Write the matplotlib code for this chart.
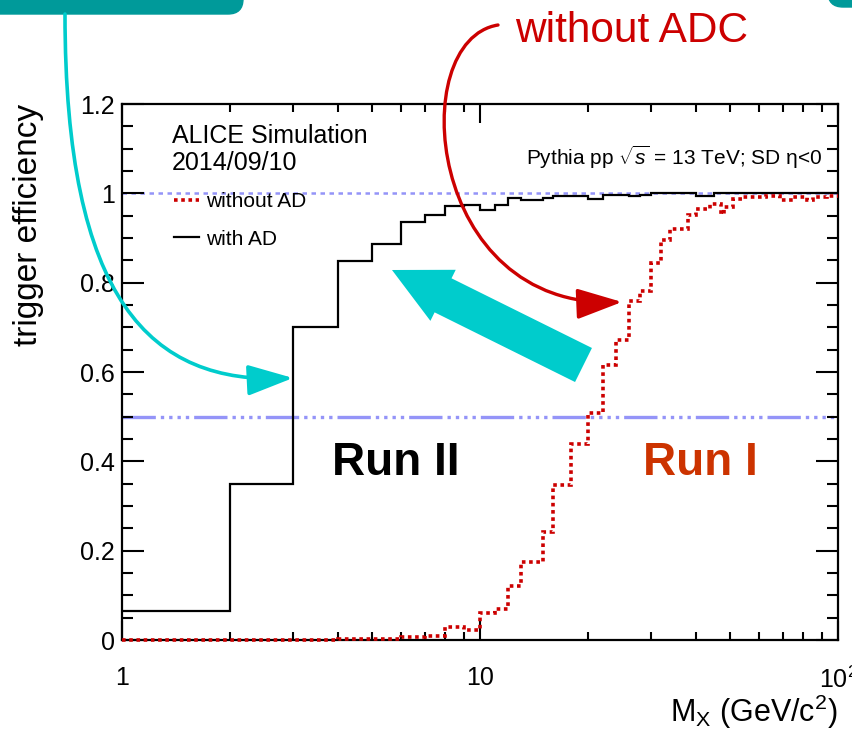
import matplotlib
matplotlib.use("Agg")
import matplotlib.pyplot as plt
from matplotlib.patches import FancyArrowPatch, FancyArrow, FancyBboxPatch
from matplotlib.path import Path
from matplotlib.ticker import MultipleLocator, LogLocator, NullFormatter

plt.rcParams['font.family'] = ['Liberation Sans', 'DejaVu Sans']
plt.rcParams['mathtext.fontset'] = 'custom'
plt.rcParams['mathtext.rm'] = 'Liberation Sans'
plt.rcParams['mathtext.it'] = 'Liberation Sans:italic'
plt.rcParams['mathtext.bf'] = 'Liberation Sans:bold'

# ---------------- DATA ----------------
# with AD (black histogram)
with_ad_edges = [1, 2, 3, 4, 5, 6, 7, 8, 9, 10, 11, 12, 13, 15, 16, 20, 22, 26, 28, 30, 40, 45, 100]
with_ad_eff = [0.064, 0.350, 0.700, 0.848, 0.886, 0.935, 0.951, 0.971, 0.974, 0.963, 0.975,
               0.989, 0.984, 0.990, 0.995, 0.988, 0.997, 0.993, 0.996, 1.0, 0.994, 1.0]

# without AD (red dotted histogram)
without_ad_edges = [1, 4, 5, 6, 7, 8, 9, 10, 11, 12, 13, 15, 16, 18, 20, 22, 24, 26, 28, 30, 32, 34,
                    38, 40, 44, 47, 48, 51, 54, 63, 69, 75, 82, 85, 93, 100]
without_ad_eff = [0.0, 0.002, 0.003, 0.006, 0.010, 0.028, 0.022, 0.060, 0.069, 0.120, 0.175, 0.242,
                  0.346, 0.438, 0.509, 0.615, 0.671, 0.760, 0.781, 0.844, 0.895, 0.921, 0.951,
                  0.966, 0.977, 0.954, 0.969, 0.988, 0.992, 0.995, 0.985, 0.992, 0.984, 0.992, 0.995]

ref_levels = [1.0, 0.5]
x_tick_vals = [1, 10, 100]
x_tick_labels = ['1', '10', '10$^{2}$']

# ---------------- FIGURE ----------------
W, H = 853, 731
fig = plt.figure(figsize=(W / 100, H / 100), dpi=100)
ax = fig.add_axes([122 / W, (H - 640) / H, (838 - 122) / W, (640 - 104) / H])
tr = fig.dpi_scale_trans


def px(x, y):
    # image pixel (from top-left) -> inches from bottom-left
    return (x / 100, (H - y) / 100)


ax.set_xscale('log')
ax.set_xlim(1, 100)
ax.set_ylim(0, 1.2)

blue = '#9494f8'
ax.axhline(ref_levels[0], color=blue, lw=1.8, ls=(0, (1.8, 1.8)), zorder=1)
ax.axhline(ref_levels[1], color=blue, lw=2.4,
           ls=(0, (10, 1.5, 1, 1.5, 1, 1.5, 1, 1.5, 1, 1.5)), zorder=1)

ax.stairs(with_ad_eff, with_ad_edges, baseline=None, color='black', lw=1.6,
          label='with AD', zorder=3, clip_on=False)
ax.stairs(without_ad_eff, without_ad_edges, baseline=None, color='#cc0000', lw=2.6,
          ls=(0, (1, 1)), label='without AD', zorder=4, clip_on=False)

# ticks, ROOT style
ax.set_xticks(x_tick_vals, labels=x_tick_labels)
ax.xaxis.set_minor_locator(LogLocator(base=10, subs=range(2, 10)))
ax.xaxis.set_minor_formatter(NullFormatter())
ax.yaxis.set_minor_locator(MultipleLocator(0.05))
ax.set_yticks([0, 0.2, 0.4, 0.6, 0.8, 1, 1.2], labels=['0', '0.2', '0.4', '0.6', '0.8', '1', '1.2'])
ax.tick_params(which='both', direction='in', top=True, right=True, width=1.5, labelsize=18)
ax.tick_params(axis='y', which='major', length=16, pad=5)
ax.tick_params(axis='y', which='minor', length=8)
ax.tick_params(axis='x', which='major', length=14, pad=19)
ax.tick_params(axis='x', which='minor', length=6)
for s in ax.spines.values():
    s.set_linewidth(1.6)

ax.set_ylabel('trigger efficiency', fontsize=24, loc='top', labelpad=26)
ax.set_xlabel(r'M$_{\rm X}$ (GeV/c$^{2}$)', fontsize=22, loc='right', labelpad=0)

# legend: without AD first
handles, labels = ax.get_legend_handles_labels()
ax.legend(handles[::-1], labels[::-1], loc='upper left', bbox_to_anchor=px(174, 192),
          bbox_transform=tr, frameon=False, fontsize=15,
          handlelength=1.2, handletextpad=0.35, labelspacing=0.9, borderpad=0, borderaxespad=0)

# texts
fig.text(*px(172, 143), 'ALICE Simulation', fontsize=18, va='baseline', transform=tr)
fig.text(*px(172, 170), '2014/09/10', fontsize=18, va='baseline', transform=tr)
fig.text(*px(822, 165), r'Pythia pp $\sqrt{s}$ = 13 TeV; SD η<0', fontsize=15,
         ha='right', va='baseline', transform=tr)
fig.text(*px(332, 475), 'Run II', fontsize=33, fontweight='bold', color='black',
         va='baseline', transform=tr)
fig.text(*px(643, 475), 'Run I', fontsize=33, fontweight='bold', color='#cc3300',
         va='baseline', transform=tr)
fig.text(*px(515, 42), 'without ADC', fontsize=30.5, color='#cc0000', va='baseline', transform=tr)

# ---------------- ANNOTATION SHAPES ----------------
teal_dark = '#009a9a'
teal = '#00cccc'

box_l = FancyBboxPatch(px(-40, 14), 2.83, 0.6, boxstyle='round,pad=0,rounding_size=0.15',
                       transform=tr, color=teal_dark, zorder=6)
fig.add_artist(box_l)
box_r = FancyBboxPatch(px(828, 7), 1.0, 0.5, boxstyle='round,pad=0,rounding_size=0.15',
                       transform=tr, color=teal_dark, zorder=6)
fig.add_artist(box_r)

cyan_path = Path([px(65, 14), px(65, 300), px(150, 385), px(293, 378)],
                 [Path.MOVETO, Path.CURVE4, Path.CURVE4, Path.CURVE4])
fig.add_artist(FancyArrowPatch(path=cyan_path, transform=tr, color=teal, lw=2.6,
                               arrowstyle='-|>,head_length=28,head_width=9.5',
                               mutation_scale=1, zorder=7))

red_path = Path([px(498, 25), px(405, 40), px(425, 310), px(622, 302)],
                [Path.MOVETO, Path.CURVE4, Path.CURVE4, Path.CURVE4])
fig.add_artist(FancyArrowPatch(path=red_path, transform=tr, color='#cc0000', lw=2.4,
                               arrowstyle='-|>,head_length=28,head_width=9.5',
                               mutation_scale=1, zorder=7))

tail = px(583.5, 365)
tip = px(392, 270)
fig.add_artist(FancyArrow(tail[0], tail[1], tip[0] - tail[0], tip[1] - tail[1],
                          width=0.38, head_width=0.57, head_length=0.57,
                          length_includes_head=True, transform=tr, color=teal,
                          lw=0, zorder=7))

fig.savefig('out.png', dpi=100)
